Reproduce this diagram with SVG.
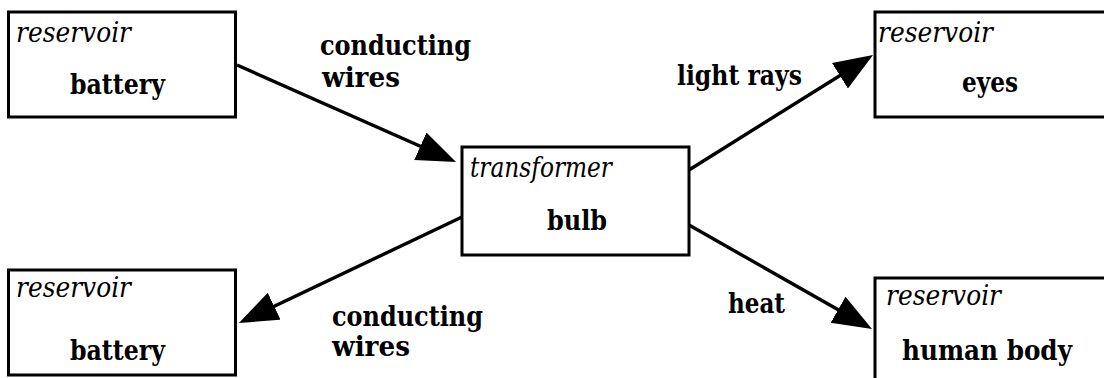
<svg xmlns="http://www.w3.org/2000/svg" width="1104" height="378" viewBox="0 0 1104 378">
<style>
.box{fill:#fff;stroke:#000;stroke-width:3}
text{font-family:'DejaVu Serif Condensed','DejaVu Serif','Liberation Serif',serif;font-stretch:condensed;font-size:27px;fill:#000}
.it{font-style:italic}
.bd{font-weight:bold}
.edge{stroke:#000;stroke-width:3.4;fill:none;marker-end:url(#ah)}
</style>
<defs>
<marker id="ah" markerUnits="userSpaceOnUse" markerWidth="42" markerHeight="32" refX="29" refY="15" orient="auto" viewBox="0 0 42 32">
<path d="M0,0 L39,15 L0,30 z" fill="#000"/>
</marker>
</defs>
<rect width="1104" height="378" fill="#fff"/>
<g id="connectors">
<line class="edge" x1="237" y1="65" x2="446.9" y2="158"/>
<line class="edge" x1="689" y1="170" x2="864.5" y2="60.3"/>
<line class="edge" x1="462" y1="217" x2="248" y2="318.7"/>
<line class="edge" x1="689" y1="225" x2="863.3" y2="324.1"/>
</g>
<g id="labels">
<text class="bd" x="320" y="55" textLength="151" lengthAdjust="spacingAndGlyphs">conducting</text>
<text class="bd" x="322" y="87" textLength="78" lengthAdjust="spacingAndGlyphs">wires</text>
<text class="bd" x="677" y="85" textLength="125" lengthAdjust="spacingAndGlyphs">light rays</text>
<text class="bd" x="332" y="326" textLength="151" lengthAdjust="spacingAndGlyphs">conducting</text>
<text class="bd" x="332" y="356" textLength="78" lengthAdjust="spacingAndGlyphs">wires</text>
<text class="bd" x="728" y="313" textLength="57" lengthAdjust="spacingAndGlyphs">heat</text>
</g>
<g id="battery-top">
<rect class="box" x="8.5" y="12" width="227" height="105"/>
<text class="it" x="16" y="42" textLength="115" lengthAdjust="spacingAndGlyphs">reservoir</text>
<text class="bd" x="70" y="94" textLength="95" lengthAdjust="spacingAndGlyphs">battery</text>
</g>
<g id="eyes">
<rect class="box" x="875" y="12" width="240" height="105"/>
<text class="it" x="878" y="42" textLength="115" lengthAdjust="spacingAndGlyphs">reservoir</text>
<text class="bd" x="962" y="92" textLength="56" lengthAdjust="spacingAndGlyphs">eyes</text>
</g>
<g id="bulb">
<rect class="box" x="462" y="147" width="227" height="108"/>
<text class="it" x="470" y="177" textLength="142" lengthAdjust="spacingAndGlyphs">transformer</text>
<text class="bd" x="547" y="230" textLength="60" lengthAdjust="spacingAndGlyphs">bulb</text>
</g>
<g id="battery-bottom">
<rect class="box" x="8.5" y="270" width="227" height="105"/>
<text class="it" x="16" y="297" textLength="115" lengthAdjust="spacingAndGlyphs">reservoir</text>
<text class="bd" x="70" y="360" textLength="95" lengthAdjust="spacingAndGlyphs">battery</text>
</g>
<g id="human-body">
<rect class="box" x="875" y="278" width="240" height="120"/>
<text class="it" x="886" y="305" textLength="115" lengthAdjust="spacingAndGlyphs">reservoir</text>
<text class="bd" x="902" y="360" textLength="170" lengthAdjust="spacingAndGlyphs">human body</text>
</g>
</svg>
